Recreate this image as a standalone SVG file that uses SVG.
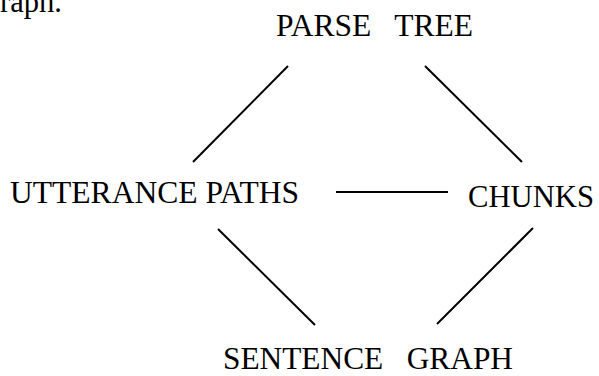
<svg xmlns="http://www.w3.org/2000/svg" width="599" height="376" viewBox="0 0 599 376">
<style>
text { font-family: "Liberation Serif", "Times New Roman", serif; font-size: 31px; fill: #000; }
.edge { stroke: #000; stroke-width: 2; fill: none; }
</style>
<rect width="599" height="376" fill="#fff"/>
<text x="0" y="12" textLength="62" lengthAdjust="spacingAndGlyphs">raph.</text>
<g id="connectors">
<line class="edge" x1="288" y1="66" x2="193" y2="162"/>
<line class="edge" x1="425" y1="66" x2="522" y2="162"/>
<line class="edge" x1="336" y1="192" x2="448" y2="192"/>
<line class="edge" x1="218" y1="229" x2="315" y2="325"/>
<line class="edge" x1="533" y1="228" x2="437" y2="324"/>
</g>
<g id="parse-tree"><text x="276" y="36" xml:space="preserve" textLength="197" lengthAdjust="spacingAndGlyphs">PARSE   TREE</text></g>
<g id="utterance-paths"><text x="10" y="203" textLength="289" lengthAdjust="spacingAndGlyphs">UTTERANCE PATHS</text></g>
<g id="chunks"><text x="468" y="207" textLength="126" lengthAdjust="spacingAndGlyphs">CHUNKS</text></g>
<g id="sentence-graph"><text x="223" y="369" xml:space="preserve" textLength="290" lengthAdjust="spacingAndGlyphs">SENTENCE   GRAPH</text></g>
</svg>
